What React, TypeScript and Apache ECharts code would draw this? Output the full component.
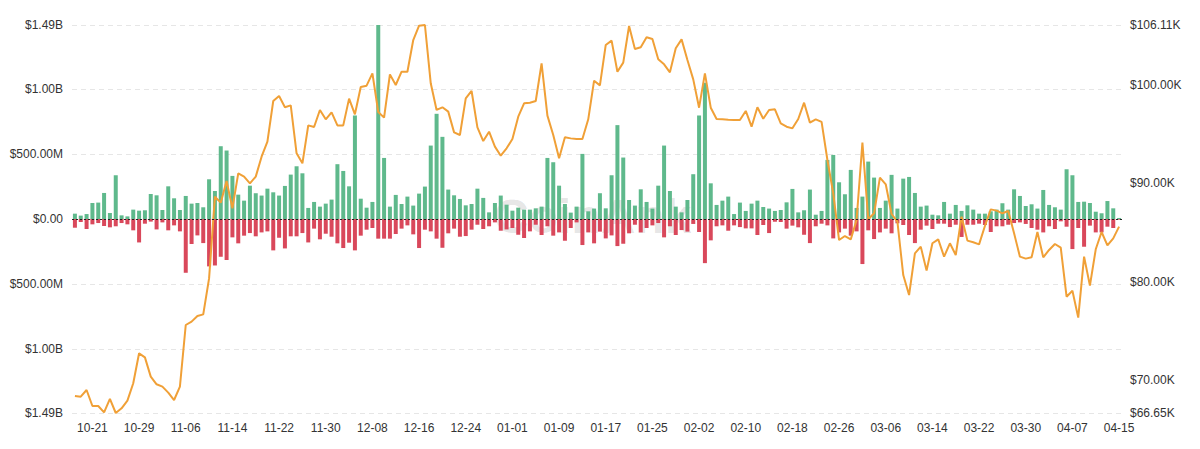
import React, { useEffect, useRef } from "react";
import * as echarts from "echarts";

const START_DATE = Date.UTC(2024, 9, 18);
const DAY_COUNT = 180;
const dates: string[] = Array.from({ length: DAY_COUNT }, (_, i) => {
  const d = new Date(START_DATE + i * 86400000);
  const mm = String(d.getUTCMonth() + 1).padStart(2, "0");
  const dd = String(d.getUTCDate()).padStart(2, "0");
  return `${mm}-${dd}`;
});

// Inflow (millions USD)
const inflowM = [
  41, 26, 38, 123, 126, 200, 46, 336, 28, 20,
  72, 64, 67, 192, 182, 69, 251, 159, 69, 177,
  118, 123, 90, 305, 215, 559, 526, 331, 187, 141,
  256, 198, 180, 233, 205, 180, 254, 341, 405, 351,
  85, 131, 95, 118, 149, 421, 369, 251, 795, 156,
  87, 131, 1490, 469, 95, 185, 115, 172, 103, 195,
  249, 564, 808, 631, 226, 182, 154, 105, 115, 233,
  162, 51, 123, 180, 110, 64, 87, 72, 72, 82,
  95, 469, 436, 256, 115, 49, 95, 500, 59, 80,
  198, 82, 336, 721, 472, 146, 103, 228, 131, 80,
  256, 564, 215, 95, 51, 146, 344, 795, 1047, 274,
  108, 141, 172, 38, 126, 62, 118, 141, 92, 80,
  62, 69, 128, 231, 51, 67, 226, 33, 62, 454,
  492, 282, 190, 377, 85, 172, 441, 318, 85, 141,
  339, 80, 310, 323, 200, 95, 103, 33, 28, 131,
  41, 108, 62, 105, 72, 41, 41, 59, 72, 121,
  72, 228, 177, 100, 113, 80, 223, 108, 90, 72,
  382, 336, 131, 133, 123, 56, 44, 138, 82, 8,
];

// Outflow (millions USD, magnitude)
const outflowM = [
  67, 23, 77, 41, 31, 54, 64, 56, 31, 41,
  87, 180, 36, 20, 80, 26, 87, 49, 95, 413,
  192, 126, 185, 364, 357, 290, 315, 141, 187, 128,
  108, 133, 103, 95, 241, 144, 226, 133, 133, 108,
  180, 74, 156, 113, 136, 187, 223, 182, 241, 128,
  82, 69, 151, 151, 151, 115, 74, 49, 118, 223,
  82, 95, 151, 221, 110, 74, 136, 131, 82, 44,
  77, 56, 26, 90, 80, 69, 121, 146, 95, 44,
  123, 56, 128, 103, 167, 69, 26, 200, 103, 187,
  97, 149, 126, 208, 190, 110, 44, 103, 69, 49,
  31, 141, 56, 123, 85, 97, 38, 100, 339, 164,
  56, 49, 90, 49, 62, 72, 72, 123, 46, 108,
  21, 23, 74, 51, 64, 121, 185, 56, 36, 49,
  149, 103, 74, 128, 95, 346, 87, 154, 103, 74,
  110, 33, 46, 123, 185, 82, 51, 77, 36, 36,
  62, 44, 138, 44, 44, 36, 46, 100, 56, 56,
  44, 31, 26, 38, 69, 82, 103, 56, 77, 18,
  59, 231, 69, 213, 51, 103, 103, 59, 69, 5,
];

// BTC price (thousands USD)
const priceK = [
  68.38, 68.31, 68.99, 67.36, 67.36, 66.72, 68.08, 66.65, 67.13, 67.91,
  69.67, 72.72, 72.31, 70.35, 69.57, 69.33, 68.72, 67.97, 69.33, 75.6,
  75.94, 76.51, 76.68, 80.34, 88.65, 88.04, 90.24, 87.46, 91.02, 90.69,
  90.01, 90.69, 92.72, 94.25, 98.38, 98.89, 97.74, 97.94, 93.06, 92.04,
  95.9, 95.74, 97.47, 96.52, 97.23, 95.9, 95.9, 98.62, 97.03, 99.8,
  99.94, 101.19, 97.26, 96.69, 101.09, 100.01, 101.36, 101.36, 104.58, 106.04,
  106.11, 100.18, 97.47, 97.74, 97.3, 95.19, 94.92, 98.65, 99.4, 95.7,
  94.31, 95.26, 93.74, 92.82, 93.57, 94.52, 96.79, 98.14, 98.21, 98.38,
  102.21, 96.89, 94.92, 92.55, 94.69, 94.58, 94.52, 94.52, 96.52, 100.45,
  99.97, 104.08, 104.52, 101.36, 102.28, 106.01, 103.67, 103.84, 104.86, 104.69,
  102.62, 102.11, 101.3, 103.74, 104.65, 102.55, 100.58, 97.7, 101.19, 97.7,
  96.55, 96.52, 96.48, 96.45, 96.45, 97.37, 95.77, 97.74, 96.58, 97.47,
  97.53, 96.11, 95.77, 95.6, 96.55, 98.21, 96.18, 96.52, 96.25, 92.38,
  88.99, 84.24, 84.65, 84.31, 86.28, 94.14, 86.35, 86.96, 90.58, 89.91,
  86.89, 86.11, 80.68, 78.65, 82.89, 83.57, 81.13, 83.91, 84.31, 82.55,
  83.91, 82.72, 86.62, 84.18, 84.01, 83.8, 85.67, 87.36, 87.23, 86.96,
  87.19, 84.92, 82.55, 82.35, 82.48, 85.06, 82.48, 83.23, 83.84, 83.46,
  78.48, 79.09, 76.35, 82.55, 79.6, 83.3, 85.06, 83.7, 84.41, 85.6,
];

const leftTicks = [-1.49e9, -1e9, -5e8, 0, 5e8, 1e9, 1.49e9];
const rightTicks = [66650, 70000, 80000, 90000, 100000, 106110];

const FONT = "'Liberation Sans', Arial, Helvetica, sans-serif";

function fmtLeft(v: number): string {
  const a = Math.abs(v);
  if (a >= 1e9) return `$${(a / 1e9).toFixed(2)}B`;
  if (a >= 1e6) return `$${(a / 1e6).toFixed(2)}M`;
  return "$0.00";
}

export default function App() {
  const ref = useRef<HTMLDivElement>(null);
  useEffect(() => {
    if (!ref.current) return;
    const chart = echarts.init(ref.current, undefined, { renderer: "svg" });
    chart.setOption({
      animation: false,
      backgroundColor: "#ffffff",
      textStyle: { fontFamily: FONT },
      grid: { left: 72, right: 78, top: 25, bottom: 36 },
      graphic: [
        {
          type: "text",
          left: 494,
          top: 192,
          z: 0,
          style: {
            text: "CoinAnk",
            fontSize: 48,
            fontWeight: "bold",
            fontFamily: FONT,
            fill: "rgba(0,0,0,0.1)",
          },
        },
      ],
      xAxis: {
        type: "category",
        data: dates,
        boundaryGap: true,
        axisLine: { show: false },
        axisTick: { show: false },
        axisLabel: {
          interval: (i: number) => i % 8 === 3,
          color: "#333",
          fontSize: 12,
          margin: 9,
          fontFamily: FONT,
        },
        splitLine: { show: false },
      },
      yAxis: [
        {
          type: "value",
          min: -1.49e9,
          max: 1.49e9,
          axisLine: { show: false },
          axisTick: { show: false, customValues: leftTicks },
          axisLabel: {
            customValues: leftTicks,
            formatter: fmtLeft,
            color: "#333",
            fontSize: 12,
            margin: 9,
            fontFamily: FONT,
          },
          splitLine: {
            show: true,
            customValues: leftTicks,
            lineStyle: { color: "#e6e6e6", type: [5, 4], width: 1 },
          },
        },
        {
          type: "value",
          position: "right",
          min: 66650,
          max: 106110,
          axisLine: { show: false },
          axisTick: { show: false, customValues: rightTicks },
          axisLabel: {
            customValues: rightTicks,
            formatter: (v: number) => `$${(v / 1000).toFixed(2)}K`,
            color: "#333",
            fontSize: 12,
            margin: 8,
            fontFamily: FONT,
          },
          splitLine: { show: false },
        },
      ],
      series: [
        {
          name: "Inflow",
          type: "bar",
          stack: "flow",
          barWidth: 4,
          itemStyle: { color: "#5fb98c" },
          data: inflowM.map((v) => v * 1e6),
          z: 2,
        },
        {
          name: "Outflow",
          type: "bar",
          stack: "flow",
          barWidth: 4,
          itemStyle: { color: "#d9485b" },
          data: outflowM.map((v) => -v * 1e6),
          z: 2,
          markLine: {
            silent: true,
            symbol: ["none", "arrow"],
            symbolSize: [0, 6],
            label: { show: false },
            lineStyle: { color: "#222", type: [2, 2], width: 1 },
            data: [{ yAxis: 0 }],
          },
        },
        {
          name: "Price",
          type: "line",
          yAxisIndex: 1,
          showSymbol: false,
          symbol: "none",
          lineStyle: { color: "#f0a037", width: 2 },
          itemStyle: { color: "#f0a037" },
          data: priceK.map((v) => v * 1000),
          z: 3,
        },
      ],
    });
    return () => chart.dispose();
  }, []);
  return (
    <div
      ref={ref}
      style={{ position: "fixed", left: 0, top: 0, width: 1200, height: 449 }}
    />
  );
}
